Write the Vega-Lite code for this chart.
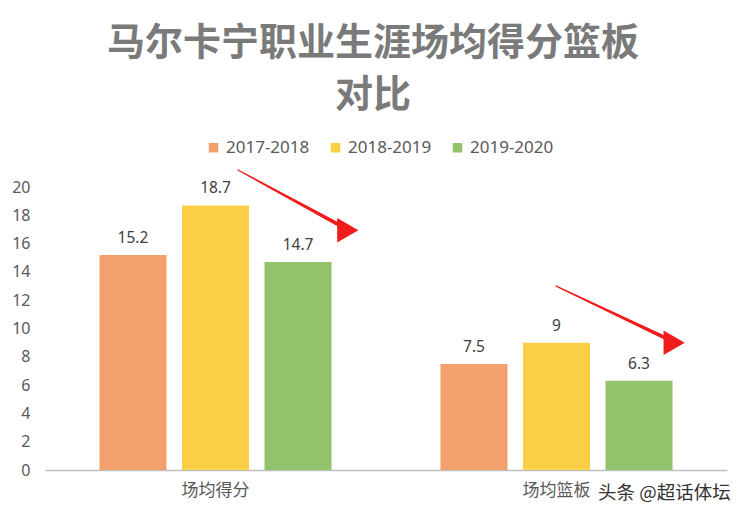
{
  "$schema": "https://vega.github.io/schema/vega-lite/v6.json",
  "width": 682,
  "height": 283,
  "autosize": "none",
  "padding": {"left": 45, "top": 187, "right": 23, "bottom": 47},
  "background": "white",
  "config": {
    "view": {"stroke": null},
    "font": "Noto Sans",
    "legend": {"padding": 0},
    "axisY": {"labelOverlap": false, "grid": false, "domain": false, "ticks": false, "labelFontSize": 16, "labelColor": "#595959", "labelPadding": 15, "title": null}
  },
  "title": {
    "text": ["马尔卡宁职业生涯场均得分篮板", "对比"],
    "font": "Noto Sans CJK SC",
    "fontSize": 38,
    "fontWeight": "bold",
    "color": "#7a7a7a",
    "lineHeight": 52,
    "anchor": "middle",
    "dx": -13,
    "offset": 24
  },
  "datasets": {
    "bars": [
      {"stat": "场均得分", "season": "2017-2018", "value": 15.2},
      {"stat": "场均得分", "season": "2018-2019", "value": 18.7},
      {"stat": "场均得分", "season": "2019-2020", "value": 14.7},
      {"stat": "场均篮板", "season": "2017-2018", "value": 7.5},
      {"stat": "场均篮板", "season": "2018-2019", "value": 9},
      {"stat": "场均篮板", "season": "2019-2020", "value": 6.3}
    ],
    "arrows": [
      {"arrow": 1, "pos": 0.566, "level": 21.2, "w": 1},
      {"arrow": 1, "pos": 0.874, "level": 17.17, "w": 10},
      {"arrow": 2, "pos": 1.499, "level": 13.0, "w": 1},
      {"arrow": 2, "pos": 1.826, "level": 9.26, "w": 10}
    ],
    "heads": [
      {"arrow": 1, "pos": 0.888, "level": 16.95, "angle": 29},
      {"arrow": 2, "pos": 1.845, "level": 9.0, "angle": 25}
    ],
    "mark": [
      {"pos": 1.622, "level": -1.63, "label": "头条 @超话体坛"}
    ]
  },
  "layer": [
    {
      "data": {"name": "bars"},
      "layer": [
        {
          "mark": {"type": "bar"},
          "encoding": {
            "x": {
              "field": "stat", "type": "nominal", "sort": null,
              "scale": {"paddingInner": 0, "paddingOuter": 0},
              "axis": {
                "title": null, "labelAngle": 0, "ticks": false,
                "domainColor": "#bfbfbf", "domainWidth": 1.5,
                "labelFont": "Noto Sans CJK SC", "labelFontSize": 17,
                "labelColor": "#595959", "labelPadding": 12
              }
            },
            "xOffset": {
              "field": "season", "type": "nominal",
              "scale": {"paddingInner": 0.188, "paddingOuter": 0.66}
            },
            "y": {
              "field": "value", "type": "quantitative",
              "scale": {"domain": [0, 20]},
              "axis": {
                "values": [0, 2, 4, 6, 8, 10, 12, 14, 16, 18, 20],
                "labelOverlap": false
              }
            },
            "color": {
              "field": "season", "type": "nominal",
              "scale": {"range": ["#F4A06C", "#FACF46", "#92C26C"]},
              "legend": {
                "title": null, "orient": "none", "direction": "horizontal",
                "legendX": 160, "legendY": -48,
                "symbolType": "square", "symbolSize": 90, "symbolStrokeWidth": 0,
                "labelFontSize": 17, "labelColor": "#595959",
                "columnPadding": 17, "labelOffset": 4
              }
            }
          }
        },
        {
          "mark": {"type": "text", "baseline": "alphabetic", "dy": -12, "fontSize": 15.5, "color": "#404040"},
          "encoding": {
            "x": {"field": "stat", "type": "nominal", "sort": null},
            "xOffset": {"field": "season", "type": "nominal"},
            "y": {"field": "value", "type": "quantitative", "axis": {"values": [0, 2, 4, 6, 8, 10, 12, 14, 16, 18, 20], "labelOverlap": false}},
            "text": {"field": "value", "type": "quantitative"}
          }
        }
      ]
    },
    {
      "data": {"name": "arrows"},
      "mark": {"type": "trail", "color": "#f01c1c"},
      "encoding": {
        "x": {"field": "pos", "type": "quantitative", "scale": {"domain": [0, 2], "nice": false, "zero": false}, "axis": null},
        "y": {"field": "level", "type": "quantitative", "axis": {"values": [0, 2, 4, 6, 8, 10, 12, 14, 16, 18, 20], "labelOverlap": false}},
        "detail": {"field": "arrow"},
        "size": {"field": "w", "type": "quantitative", "scale": {"type": "identity"}, "legend": null}
      }
    },
    {
      "data": {"name": "heads"},
      "mark": {"type": "point", "shape": "triangle-right", "filled": true, "size": 600, "color": "#f01c1c", "opacity": 1},
      "encoding": {
        "x": {"field": "pos", "type": "quantitative", "scale": {"domain": [0, 2], "nice": false, "zero": false}, "axis": null},
        "y": {"field": "level", "type": "quantitative", "axis": {"values": [0, 2, 4, 6, 8, 10, 12, 14, 16, 18, 20], "labelOverlap": false}},
        "angle": {"field": "angle", "type": "quantitative", "scale": {"type": "identity"}}
      }
    },
    {
      "data": {"name": "mark"},
      "mark": {"type": "text", "align": "left", "baseline": "middle", "font": "Noto Sans CJK SC", "fontSize": 18.5, "color": "#333333"},
      "encoding": {
        "x": {"field": "pos", "type": "quantitative", "scale": {"domain": [0, 2], "nice": false, "zero": false}, "axis": null},
        "y": {"field": "level", "type": "quantitative", "axis": {"values": [0, 2, 4, 6, 8, 10, 12, 14, 16, 18, 20], "labelOverlap": false}},
        "text": {"field": "label"}
      }
    }
  ],
  "resolve": {"scale": {"x": "independent", "size": "independent"}}
}
